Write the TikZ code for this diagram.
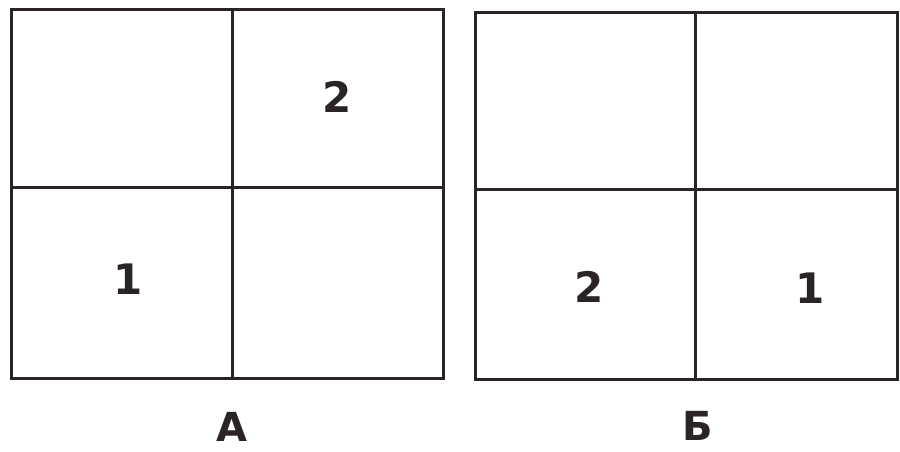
\documentclass[tikz,border=0pt]{standalone}
\usepackage{fontspec}
\setmainfont{DejaVu Sans}
\usepackage{tikz}
\usetikzlibrary{calc}
\definecolor{ink}{HTML}{2a2426}

\begin{document}
\begin{tikzpicture}[x=1pt,y=-1pt,
  frame/.style={ink,line width=3pt},
  num/.style={ink,font=\bfseries\fontsize{42}{42}\selectfont,inner sep=0pt},
  tag/.style={ink,font=\bfseries\fontsize{40}{40}\selectfont,inner sep=0pt}]
  \useasboundingbox (0,0) rectangle (900,451);
  % квадрат А
  \draw[frame] (11,9) rectangle (443,378);
  \draw[frame] (232,9) -- (232,378);
  \draw[frame] (11,187) -- (443,187);
  \node[num] (a2) at (337,97) {2};
  \node[num] (a1) at (128,279) {1};
  \node[tag] (ta) at (232,427) {А};
  % квадрат Б
  \draw[frame] (475,12) rectangle (897,379);
  \draw[frame] (695,12) -- (695,379);
  \draw[frame] (475,189) -- (897,189);
  \node[num] (b2) at (589,287) {2};
  \node[num] (b1) at (810,288) {1};
  \node[tag] (tb) at (698,426) {Б};
\end{tikzpicture}
\end{document}
